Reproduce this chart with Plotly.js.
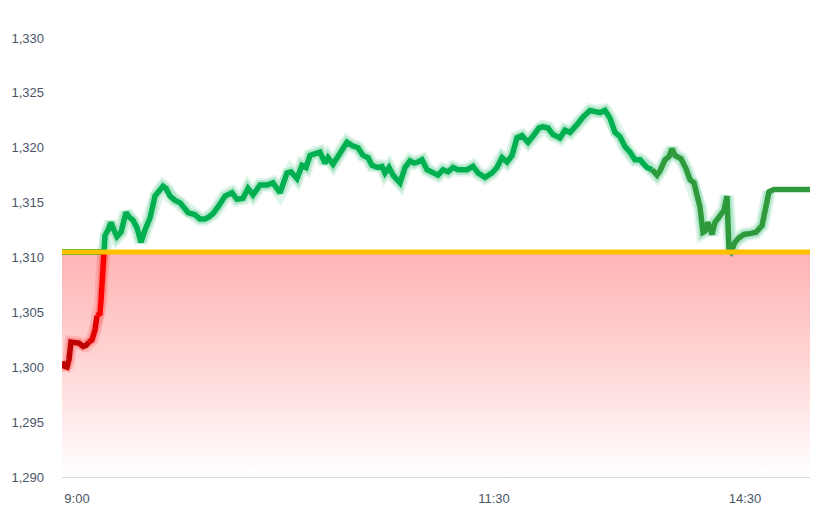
<!DOCTYPE html>
<html>
<head>
<meta charset="utf-8">
<script src="https://cdn.plot.ly/plotly-3.0.1.min.js"></script>
<style>html,body{margin:0;padding:0;background:#fff;}#chart{width:839px;height:510px;}</style>
</head>
<body>
<div id="chart"></div>
<script>
// ---- data ----
const prevClose = 1310.5;
const idx = [0,1,2.5,3.5,4.5,6.5,8.5,10.5,12,13.5,15,16.5,17.5,19,19.5,20,21,21.5,23,24.5,
26,27.5,29.5,32,33.5,35.5,37.5,39.5,41.5,44,46.5,48,50.5,52,54,56.5,59,63,66.5,69,
71.5,73.5,75.5,78,81.5,85,87.5,90.5,93,95.5,99,102.5,105.5,109,112.5,114.5,117.5,120,122,124,
126.5,129,131.5,133,135.5,139,142.5,145,148,150.5,153,155,158,160,161.5,163.5,165.5,169,171.5,174,
176,178,180,182.5,185.5,188,190.5,193,195.5,198,202.5,205.5,208,211.5,215,217.5,220,222.5,225,227.5,
230,233,236.5,238.5,240.5,243,245.5,249,251.5,254,257.5,260.5,264,266.5,269,271.5,274,276.5,279,281.5,
284,286.5,289,292.5,295,297.5,299,301.5,303.5,305,306.5,309.5,312,314,316,319,320.5,321.5,323,325,
326.5,329,331,332.5,333.5,334.5,336.5,338.5,341,344.5,347,350,351.5,353.5,356,374];
const price = [1300.5,1300.1,1300.0,1300.7,1302.3,1302.3,1302.2,1301.9,1302.0,1302.3,1302.5,1303.4,1304.7,1304.9,1306.1,1308.4,1310.5,1312.0,1312.5,1313.2,
1312.5,1311.9,1312.3,1314.1,1313.7,1313.4,1312.7,1311.4,1312.5,1313.6,1315.6,1315.9,1316.5,1316.3,1315.6,1315.2,1315.0,1314.1,1313.9,1313.5,
1313.5,1313.7,1314.0,1314.6,1315.6,1315.9,1315.3,1315.4,1316.3,1315.7,1316.6,1316.6,1316.8,1315.9,1317.7,1317.8,1317.2,1318.4,1318.2,1319.3,
1319.5,1319.6,1318.6,1319.1,1318.5,1319.5,1320.5,1320.2,1320.0,1319.3,1319.1,1318.4,1318.2,1318.3,1317.7,1318.2,1317.5,1316.8,1318.2,1318.8,
1318.6,1318.7,1318.9,1318.0,1317.8,1317.5,1318.0,1317.8,1318.2,1318.0,1318.0,1318.3,1317.7,1317.3,1317.7,1318.2,1319.1,1318.7,1319.3,1320.9,
1321.1,1320.5,1321.3,1321.8,1321.9,1321.8,1321.2,1320.9,1321.6,1321.4,1322.1,1322.8,1323.4,1323.3,1323.2,1323.4,1322.7,1321.4,1321.0,1320.1,
1319.6,1318.9,1318.9,1318.2,1318.0,1317.5,1317.9,1318.9,1319.2,1319.9,1319.3,1319.0,1318.1,1317.1,1316.8,1314.6,1312.3,1312.4,1313.2,1312.1,
1313.2,1313.9,1314.3,1315.6,1310.7,1310.5,1311.4,1311.8,1312.1,1312.2,1312.3,1312.9,1314.3,1316.0,1316.2,1316.2];
const tickPos = [7.5, 216, 341.5];
const tickText = ['9:00', '11:30', '14:30'];
const yMin = 1290, yMax = 1330, yStep = 5;

// ---- styling helpers ----
const darkFrom = 295;      // index where line turns darker green
const glowUntil = 353.5;   // glow fades on the flat closing part
const redBands = [{upTo: 13.5, color: '#c00000'}, {upTo: 17.5, color: '#e00000'}, {upTo: Infinity, color: '#ff0000'}];

function pick(cond) { return price.map((v, i) => cond(v, idx[i]) ? v : null); }

const traces = [];
const xFirst = idx[0], xLast = idx[idx.length - 1];

// gradient fill below previous close
traces.push({x: [xFirst, xLast], y: [yMin, yMin], mode: 'lines', line: {width: 0}, hoverinfo: 'skip', showlegend: false});
traces.push({x: [xFirst, xLast], y: [prevClose, prevClose], mode: 'lines', line: {width: 0}, fill: 'tonexty',
  fillgradient: {type: 'vertical', start: yMin, stop: prevClose, colorscale: [[0, 'rgba(255,255,255,1)'], [0.5, 'rgba(255,214,214,1)'], [1, 'rgba(255,180,180,1)']]},
  hoverinfo: 'skip', showlegend: false});

// green line held at previous close while price is below
traces.push({x: idx, y: price.map(v => v <= prevClose ? prevClose : null), mode: 'lines', line: {color: '#00b050', width: 6}, hoverinfo: 'skip', showlegend: false});

// red part (below prev close) with glow
const redY = pick(v => v <= prevClose);
traces.push({x: idx, y: redY, mode: 'lines', line: {color: 'rgba(255,0,0,0.12)', width: 13}, hoverinfo: 'skip', showlegend: false});
traces.push({x: idx, y: redY, mode: 'lines', line: {color: 'rgba(255,0,0,0.18)', width: 9}, hoverinfo: 'skip', showlegend: false});
redBands.forEach((b, k) => {
  const prevUp = k === 0 ? -Infinity : redBands[k - 1].upTo;
  traces.push({x: idx, y: price.map((v, i) => (v <= prevClose && idx[i] >= prevUp && idx[i] <= b.upTo) ? v : null),
    mode: 'lines', line: {color: b.color, width: 5.5}, connectgaps: false, hoverinfo: 'skip', showlegend: false});
});

// green part (above prev close)
const gBright = pick((v, t) => v >= prevClose && t <= darkFrom);
const gDark = pick((v, t) => v >= prevClose && t >= darkFrom);
const gDarkGlow = pick((v, t) => v >= prevClose && t >= darkFrom && t <= glowUntil);
[gBright, gDarkGlow].forEach(arr => {
  traces.push({x: idx, y: arr, mode: 'lines', line: {color: 'rgba(0,176,80,0.12)', width: 14}, hoverinfo: 'skip', showlegend: false});
  traces.push({x: idx, y: arr, mode: 'lines', line: {color: 'rgba(0,176,80,0.2)', width: 10}, hoverinfo: 'skip', showlegend: false});
});
traces.push({x: idx, y: gBright, mode: 'lines', line: {color: '#00b050', width: 5.5}, hoverinfo: 'skip', showlegend: false});
traces.push({x: idx, y: gDark, mode: 'lines', line: {color: '#2f9a3c', width: 5.5}, hoverinfo: 'skip', showlegend: false});

// previous close line
traces.push({x: [xFirst, xLast], y: [prevClose, prevClose], mode: 'lines', line: {color: '#ffc000', width: 5}, hoverinfo: 'skip', showlegend: false});

const layout = {
  width: 839, height: 510,
  margin: {l: 62, r: 29, t: 38, b: 33},
  paper_bgcolor: '#ffffff', plot_bgcolor: '#ffffff',
  showlegend: false,
  font: {family: 'Liberation Sans, Arial, sans-serif', size: 13, color: '#4a5568'},
  xaxis: {range: [xFirst, xLast], tickmode: 'array', tickvals: tickPos, ticktext: tickText,
    showgrid: false, zeroline: false, showline: true, linecolor: '#d9d9d9', linewidth: 1,
    ticks: '', ticklabelstandoff: 9, tickfont: {size: 13, color: '#4a5568'}, fixedrange: true},
  yaxis: {range: [yMin, yMax], tick0: yMin, dtick: yStep, tickformat: ',d',
    showgrid: false, zeroline: false, showline: false, ticks: '', ticklabelstandoff: 17,
    tickfont: {size: 13, color: '#4a5568'}, fixedrange: true}
};

Plotly.newPlot('chart', traces, layout, {displayModeBar: false, staticPlot: true});
</script>
</body>
</html>
